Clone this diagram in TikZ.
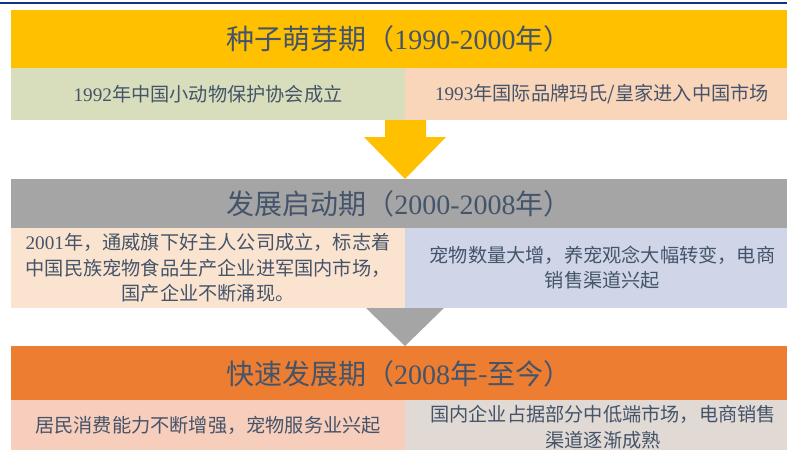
\documentclass[tikz,border=0pt]{standalone}
\usepackage{fontspec}
\setmainfont{Liberation Serif}
\newfontfamily\cjk{Noto Sans CJK SC}
\definecolor{topblue}{HTML}{0E3388}
\definecolor{hyellow}{HTML}{FFC000}
\definecolor{hgray}{HTML}{A5A5A5}
\definecolor{horange}{HTML}{ED7D31}
\definecolor{rgreen}{HTML}{D8DEBB}
\definecolor{rpeach}{HTML}{F9D5B9}
\definecolor{rlpeach}{HTML}{FBE4CF}
\definecolor{rlav}{HTML}{D0D6E8}
\definecolor{rpink}{HTML}{F7CDBC}
\definecolor{rtaupe}{HTML}{E1D9D4}
\definecolor{txtc}{HTML}{44546A}
\newcommand\lat[1]{{\rmfamily #1}}
\begin{document}
\begin{tikzpicture}[x=1pt,y=-1pt,
  box/.style={draw=none,inner sep=0pt,outer sep=0pt,anchor=center},
  head/.style={box,minimum width=776pt,text=txtc,font=\cjk\fontsize{28pt}{33pt}\selectfont},
  cell/.style={box,text=txtc,align=center,font=\cjk\fontsize{19.2pt}{25.5pt}\selectfont},
  txt/.style={inner sep=0pt,outer sep=0pt,text=txtc,align=center,font=\cjk\fontsize{19.2pt}{25.5pt}\selectfont}]
\useasboundingbox (0,0) rectangle (787,450);
\fill[white] (0,0) rectangle (787,450);
\draw[topblue,line width=2.5pt] (0,3) -- (787,3);
% arrows (behind boxes)
\fill[hyellow] (385,118) -- (426,118) -- (426,137) -- (446,137) -- (405,179) -- (364,137) -- (385,137) -- cycle;
\fill[hgray] (385,300) -- (426,300) -- (426,308) -- (444,308) -- (405,346) -- (366,308) -- (385,308) -- cycle;
% phase 1
\node[head,fill=hyellow,minimum height=58pt] (h1) at (399,39) {种子萌芽期（\lat{1990-2000}年）};
\node[cell,fill=rgreen,minimum width=394pt,minimum height=52pt] (r1l) at (208,94) {\lat{1992}年中国小动物保护协会成立};
\node[box,fill=rpeach,minimum width=382pt,minimum height=52pt] (r1r) at (596,94) {};
\node[txt] (t1r) at (602,94) {\lat{1993}年国际品牌玛氏/皇家进入中国市场};
% phase 2
\node[head,fill=hgray,minimum height=50pt] (h2) at (399,204) {发展启动期（\lat{2000-2008}年）};
\node[cell,fill=rlpeach,minimum width=394pt,minimum height=80pt] (r2l) at (208,268) {\lat{2001}年，通威旗下好主人公司成立，标志着\\中国民族宠物食品生产企业进军国内市场，\\国产企业不断涌现。};
\node[box,fill=rlav,minimum width=382pt,minimum height=80pt] (r2r) at (596,268) {};
\node[txt] (t2r) at (602.5,267.5) {宠物数量大增，养宠观念大幅转变，电商\\销售渠道兴起};
% phase 3
\node[head,fill=horange,minimum height=55pt] (h3) at (399,373.5) {快速发展期（\lat{2008}年-至今）};
\node[cell,fill=rpink,minimum width=394pt,minimum height=50pt] (r3l) at (208,425) {居民消费能力不断增强，宠物服务业兴起};
\node[box,fill=rtaupe,minimum width=382pt,minimum height=50pt] (r3r) at (596,425) {};
\node[txt] (t3r) at (603,427) {国内企业占据部分中低端市场，电商销售\\渠道逐渐成熟};
\end{tikzpicture}
\end{document}
